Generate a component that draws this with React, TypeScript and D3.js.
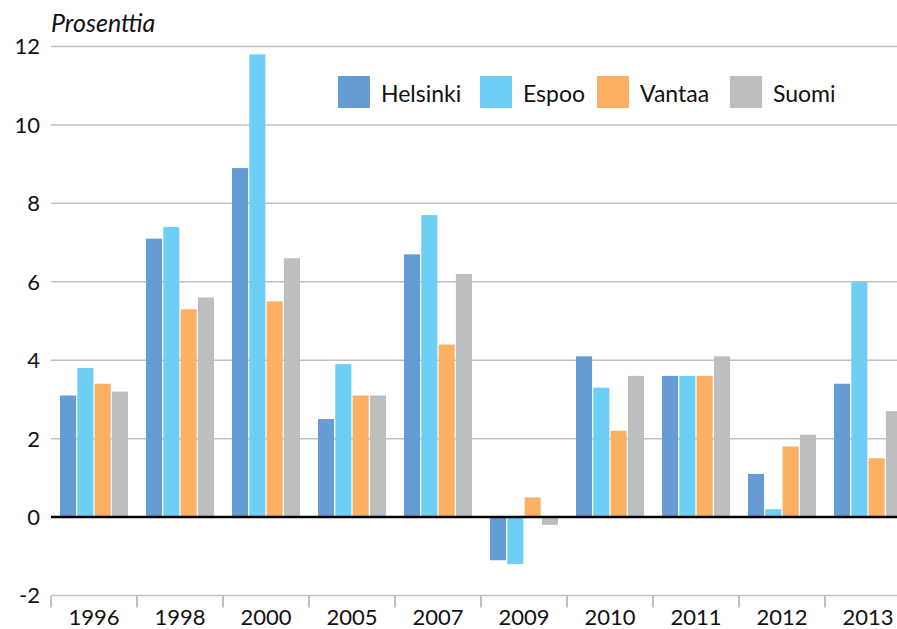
import React from "react";
import * as d3 from "d3";

const years = ["1996", "1998", "2000", "2005", "2007", "2009", "2010", "2011", "2012", "2013"];
const seriesNames = ["Helsinki", "Espoo", "Vantaa", "Suomi"];
const helsinki = [3.1, 7.1, 8.9, 2.5, 6.7, -1.1, 4.1, 3.6, 1.1, 3.4];
const espoo = [3.8, 7.4, 11.8, 3.9, 7.7, -1.2, 3.3, 3.6, 0.2, 6.0];
const vantaa = [3.4, 5.3, 5.5, 3.1, 4.4, 0.5, 2.2, 3.6, 1.8, 1.5];
const suomi = [3.2, 5.6, 6.6, 3.1, 6.2, -0.2, 3.6, 4.1, 2.1, 2.7];
const colors = ["#669cd4", "#6dcff6", "#fbb062", "#bdbec0"];
const yTicks = [-2, 0, 2, 4, 6, 8, 10, 12];
const yLabel = "Prosenttia";

const W = 897;
const H = 629;
const FONT = "Lato, 'Open Sans', sans-serif";

export default function App() {
  const values = [helsinki, espoo, vantaa, suomi];
  const x = d3.scaleBand<string>().domain(years).range([51, 911]).padding(0);
  const inner = d3
    .scaleBand<string>()
    .domain(seriesNames)
    .range([9, 77])
    .paddingInner(0.07)
    .paddingOuter(0);
  const y = d3.scaleLinear().domain([-2, 12]).range([595.5, 46.5]);

  return (
    <svg
      width={W}
      height={H}
      style={{ position: "absolute", left: 0, top: 0, background: "#fff" }}
      fontFamily={FONT}
    >
      {yTicks.map((t) => (
        <g key={t}>
          {t !== 0 && (
            <line x1={51} x2={W} y1={y(t)} y2={y(t)} stroke="#c0c0c0" strokeWidth={1.5} />
          )}
          <text x={40} y={y(t)} dy="0.36em" textAnchor="end" fontSize={22} fill="#111">
            {t}
          </text>
        </g>
      ))}
      {years.map((yr) => (
        <line
          key={"t" + yr}
          x1={x(yr)!}
          x2={x(yr)!}
          y1={y(-2)}
          y2={y(-2) + 12}
          stroke="#c0c0c0"
          strokeWidth={2}
        />
      ))}
      {values.map((vals, si) =>
        vals.map((v, i) => {
          const x0 = x(years[i])! + inner(seriesNames[si])!;
          const y0 = y(Math.max(0, v));
          const h = Math.abs(y(v) - y(0));
          return (
            <rect
              key={si + "-" + i}
              x={x0}
              y={y0}
              width={inner.bandwidth()}
              height={h}
              fill={colors[si]}
            />
          );
        })
      )}
      <line x1={51} x2={W} y1={y(0)} y2={y(0)} stroke="#000" strokeWidth={2.5} />
      {years.map((yr) => (
        <text
          key={"l" + yr}
          x={x(yr)! + x.bandwidth() / 2}
          y={625}
          textAnchor="middle"
          fontSize={22}
          fill="#111"
        >
          {yr}
        </text>
      ))}
      <text x={51} y={32} fontSize={25} fontStyle="italic" fill="#111">
        {yLabel}
      </text>
      {seriesNames.map((s, i) => {
        const lx = [338, 480, 597, 730][i];
        return (
          <g key={s}>
            <rect x={lx} y={76} width={32} height={32} fill={colors[i]} />
            <text x={lx + 43} y={101.5} fontSize={23} fill="#111">
              {s}
            </text>
          </g>
        );
      })}
    </svg>
  );
}
